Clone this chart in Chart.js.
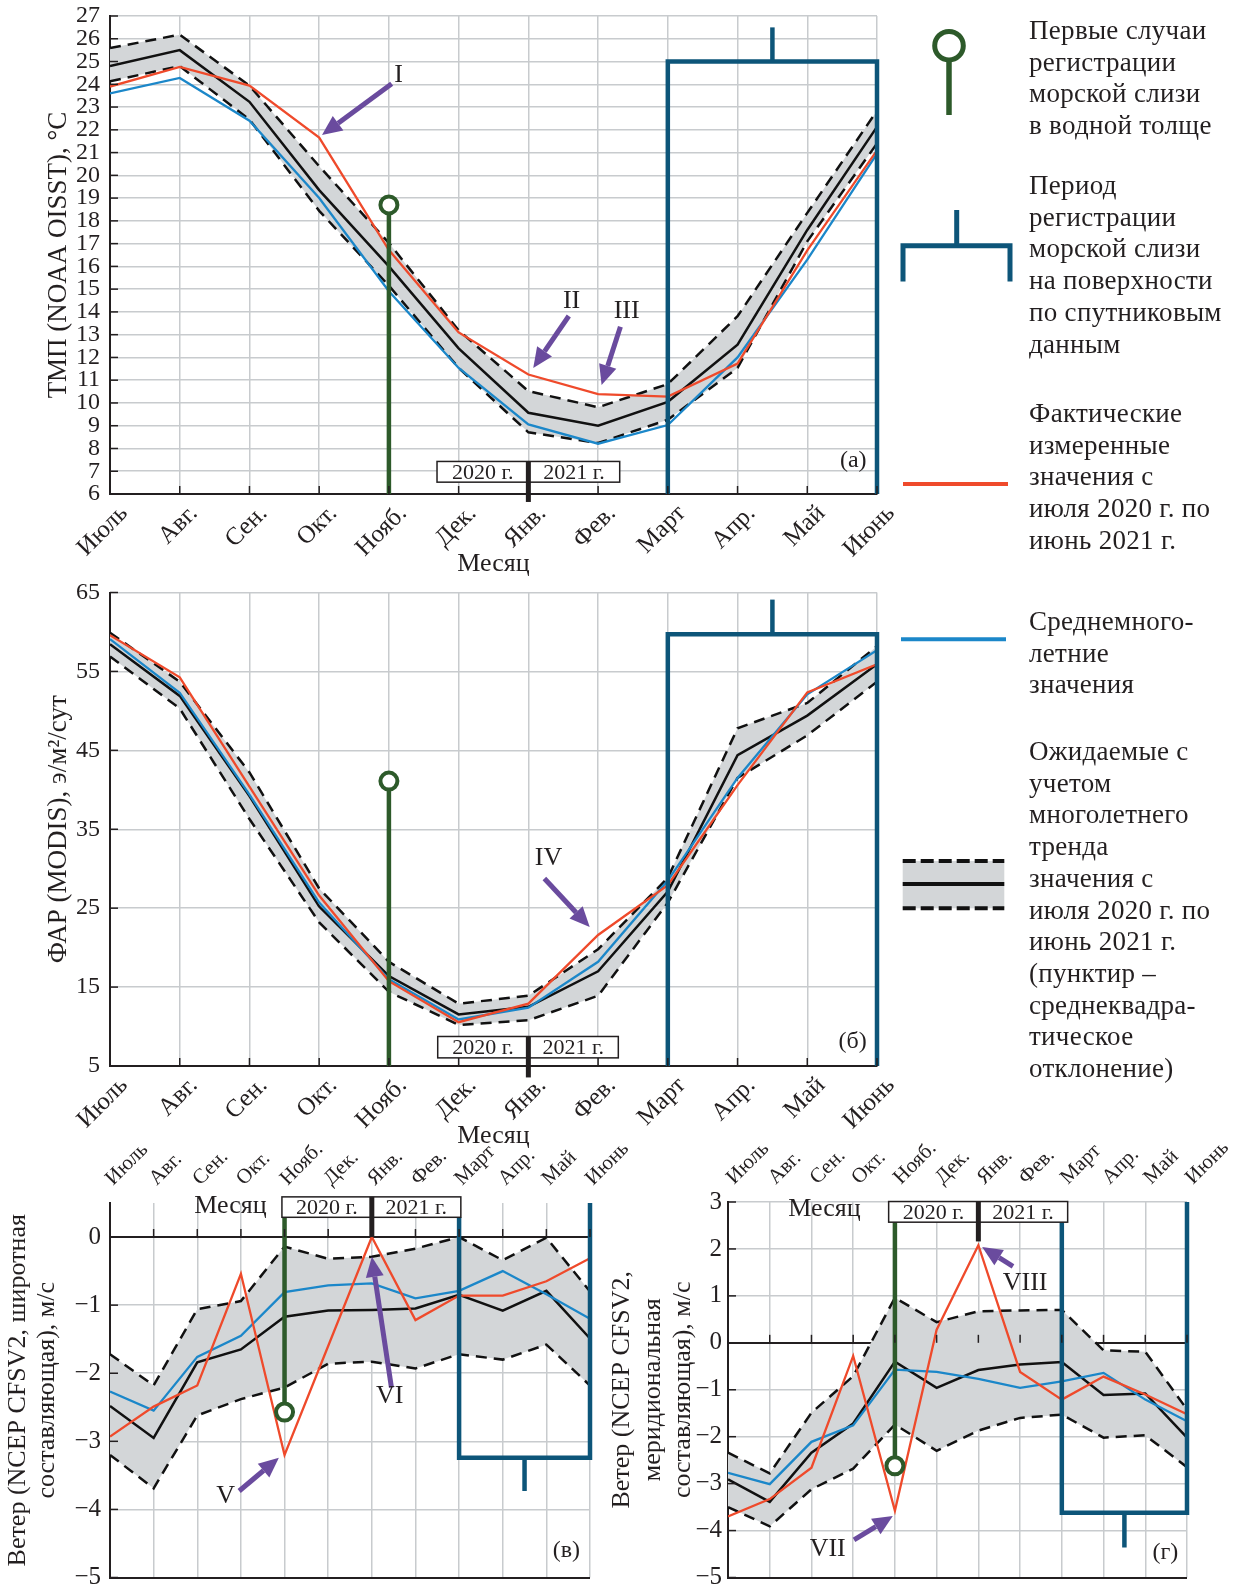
<!DOCTYPE html>
<html>
<head>
<meta charset="utf-8">
<script src="https://cdn.jsdelivr.net/npm/chart.js@4.4.1/dist/chart.umd.min.js"></script>
<style>
  body { margin: 0; background: #fff; width: 1238px; height: 1590px; position: relative; overflow: hidden; }
  canvas { position: absolute; }
  .leg { position: absolute; left: 1029px; font-family: "Liberation Serif", serif; font-size: 27px;
         letter-spacing: 0.3px; line-height: 31.7px; white-space: pre; color: #231f20; }
</style>
</head>
<body>
<canvas id="cA" width="912" height="580" style="left:0;top:0"></canvas>
<canvas id="cB" width="912" height="574" style="left:0;top:580px"></canvas>
<canvas id="cV" width="640" height="470" style="left:0;top:1120px"></canvas>
<canvas id="cG" width="638" height="470" style="left:600px;top:1120px"></canvas>
<canvas id="cL" width="160" height="960" style="left:880px;top:0"></canvas>

<div class="leg" style="top:15px">Первые случаи
регистрации
морской слизи
в водной толще</div>
<div class="leg" style="top:170px">Период
регистрации
морской слизи
на поверхности
по спутниковым
данным</div>
<div class="leg" style="top:398px">Фактические
измеренные
значения с
июля 2020 г. по
июнь 2021 г.</div>
<div class="leg" style="top:606px">Среднемного-
летние
значения</div>
<div class="leg" style="top:736px">Ожидаемые с
учетом
многолетнего
тренда
значения с
июля 2020 г. по
июнь 2021 г.
(пунктир –
среднеквадра-
тическое
отклонение)</div>

<script>
const months = ['Июль', 'Авг.', 'Сен.', 'Окт.', 'Нояб.', 'Дек.', 'Янв.', 'Фев.', 'Март', 'Апр.', 'Май', 'Июнь'];

// (а) ТМП, °C
const sstActual = [23.9, 24.76, 23.94, 21.66, 16.72, 13.1, 11.25, 10.39, 10.28, 11.73, 16.7, 21.1];
const sstClim   = [23.6, 24.28, 22.4, 19.0, 14.91, 11.54, 9.06, 8.21, 9.03, 12.0, 16.3, 20.95];
const sstTrend  = [24.8, 25.5, 23.23, 19.35, 16.0, 12.4, 9.57, 9.0, 10.05, 12.56, 17.6, 22.13];
const sstUpper  = [25.59, 26.18, 23.94, 20.4, 17.03, 13.19, 10.52, 9.81, 10.83, 13.81, 18.35, 22.84];
const sstLower  = [24.13, 24.8, 22.45, 18.44, 15.15, 11.54, 8.71, 8.24, 9.26, 11.54, 17.1, 21.4];

// (б) ФАР, э/м2/сут
const parActual = [59.6, 54.25, 40.4, 26.6, 15.75, 10.55, 12.9, 21.6, 27.9, 40.6, 52.35, 55.9];
const parClim   = [59.1, 52.3, 39.4, 25.7, 16.0, 10.9, 12.4, 18.2, 28.5, 41.5, 52.1, 57.7];
const parTrend  = [58.45, 51.9, 39.2, 25.2, 16.4, 11.54, 12.5, 17.0, 27.1, 44.4, 49.4, 55.9];
const parUpper  = [59.9, 53.7, 42.2, 27.5, 18.2, 12.9, 13.9, 19.8, 28.85, 47.8, 51.0, 58.2];
const parLower  = [56.9, 50.3, 36.3, 23.2, 14.4, 10.2, 10.8, 13.9, 25.7, 41.5, 46.9, 53.7];

// (в) ветер, широтная составляющая, м/с
const uActual = [-2.93, -2.49, -2.18, -0.54, -3.2, -1.6, 0.0, -1.22, -0.86, -0.86, -0.65, -0.31];
const uClim   = [-2.27, -2.55, -1.76, -1.45, -0.81, -0.71, -0.68, -0.9, -0.79, -0.5, -0.84, -1.2];
const uTrend  = [-2.48, -2.95, -1.84, -1.65, -1.17, -1.08, -1.07, -1.05, -0.85, -1.08, -0.79, -1.49];
const uUpper  = [-1.72, -2.18, -1.06, -0.94, -0.14, -0.32, -0.29, -0.17, 0.0, -0.34, -0.01, -0.8];
const uLower  = [-3.2, -3.69, -2.62, -2.38, -2.21, -1.86, -1.83, -1.93, -1.72, -1.8, -1.58, -2.18];

// (г) ветер, меридиональная составляющая, м/с
const vActual = [-3.7, -3.33, -2.66, -0.28, -3.58, 0.28, 2.08, -0.62, -1.21, -0.72, -1.1, -1.52];
const vClim   = [-2.77, -3.01, -2.11, -1.76, -0.57, -0.62, -0.77, -0.96, -0.82, -0.64, -1.21, -1.67];
const vTrend  = [-2.91, -3.39, -2.34, -1.72, -0.4, -0.96, -0.58, -0.46, -0.41, -1.11, -1.08, -2.02];
const vUpper  = [-2.34, -2.78, -1.49, -0.71, 0.96, 0.44, 0.67, 0.69, 0.7, -0.16, -0.19, -1.42];
const vLower  = [-3.5, -3.91, -3.12, -2.68, -1.74, -2.3, -1.87, -1.6, -1.53, -2.02, -1.97, -2.65];

// first slime in the water column (month index, stem from/to)
const slimeMonth = 4;
const slimeA = [6, 18.7], slimeB = [5, 41.1], slimeV = [0.29, -2.57], slimeG = [2.57, -2.62];
// surface slime period (months) and bracket levels: [left start, right start, bar, stem end]
const surfaceMonths = [8, 11];
const periodA = [6, 6, 25, 26.5], periodB = [5, 5, 59.7, 64.1];
const periodV = [0.29, 0.5, -3.24, -3.73], periodG = [2.57, 3, -3.62, -4.36];

const F = '"Liberation Serif", "Times New Roman", serif';
const INK = '#231f20', GRID = '#c8cbce', BAND = '#d3d6d8';
const RED = '#ef4a2b', BLUE = '#1b87c9', GREEN = '#2d5a2a', NAVY = '#0d5579', PURPLE = '#6a4b9e';
Chart.defaults.font.family = F;
Chart.defaults.color = INK;

const pts = arr => arr.map((y, x) => ({x, y}));
const minus = v => (v < 0 ? '\u2212' + Math.abs(v) : String(v));

function seriesSets(actual, clim, trend, upper, lower) {
  return [
    {data: pts(upper), borderColor: '#111', borderWidth: 2.5, borderDash: [11, 7], fill: '+1', backgroundColor: BAND, order: 4},
    {data: pts(lower), borderColor: '#111', borderWidth: 2.5, borderDash: [11, 7], order: 5},
    {data: pts(trend), borderColor: '#111', borderWidth: 2.5, order: 3},
    {data: pts(clim), borderColor: BLUE, borderWidth: 2.3, order: 2},
    {data: pts(actual), borderColor: RED, borderWidth: 2.3, order: 1},
  ];
}

function markerSets(stem, period) {
  const [m0, m1] = surfaceMonths;
  return [
    {data: [{x: slimeMonth, y: stem[0]}, {x: slimeMonth, y: stem[1]}], borderColor: GREEN, borderWidth: 4.5,
     pointRadius: [0, 8.5], pointBorderWidth: 4, pointBorderColor: GREEN, pointBackgroundColor: '#fff', order: 0, clip: false},
    {data: [{x: m0, y: period[0]}, {x: m0, y: period[2]}, {x: m1, y: period[2]}, {x: m1, y: period[1]}],
     borderColor: NAVY, borderWidth: 4.5, borderJoinStyle: 'miter', order: 0, clip: false},
    {data: [{x: (m0 + m1) / 2, y: period[2]}, {x: (m0 + m1) / 2, y: period[3]}],
     borderColor: NAVY, borderWidth: 4.5, order: 0, clip: false},
  ];
}

function arrow(ctx, x1, y1, x2, y2) {
  const a = Math.atan2(y2 - y1, x2 - x1), L = 20, W = 9;
  const bx = x2 - L * Math.cos(a), by = y2 - L * Math.sin(a);
  ctx.strokeStyle = ctx.fillStyle = PURPLE;
  ctx.lineWidth = 5;
  ctx.beginPath(); ctx.moveTo(x1, y1); ctx.lineTo(bx, by); ctx.stroke();
  ctx.beginPath();
  ctx.moveTo(x2, y2);
  ctx.lineTo(bx + W * Math.sin(a), by - W * Math.cos(a));
  ctx.lineTo(bx - W * Math.sin(a), by + W * Math.cos(a));
  ctx.closePath(); ctx.fill();
}

// inner ticks, year box, arrows and labels, placed in data units
const decor = {
  id: 'decor',
  afterDatasetsDraw(chart, args, o) {
    const {ctx, chartArea: ca} = chart;
    const sx = chart.scales.x, sy = chart.scales.y;
    const px = v => sx.getPixelForValue(v), py = v => sy.getPixelForValue(v);
    ctx.save();
    ctx.strokeStyle = INK; ctx.lineWidth = 1.5;
    sy.ticks.forEach(t => {
      const y = py(t.value);
      ctx.beginPath(); ctx.moveTo(ca.left, y); ctx.lineTo(ca.left + 8, y); ctx.stroke();
    });
    const xl = o.xTickAt == null ? ca.bottom : py(o.xTickAt);
    sx.ticks.forEach(t => {
      const x = px(t.value);
      ctx.beginPath(); ctx.moveTo(x, xl); ctx.lineTo(x, xl - 8); ctx.stroke();
    });

    const b = o.yearBox;
    if (b) {
      const x0 = px(b.x0), x1 = px(b.x1), y0 = py(b.top), y1 = py(b.bottom), xs = px(b.split);
      ctx.fillStyle = '#fff';
      ctx.fillRect(x0, y0, x1 - x0, y1 - y0);
      ctx.strokeStyle = INK; ctx.lineWidth = 1.5;
      ctx.strokeRect(x0, y0, x1 - x0, y1 - y0);
      ctx.lineWidth = 5;
      ctx.beginPath(); ctx.moveTo(xs, y0); ctx.lineTo(xs, py(b.splitTo)); ctx.stroke();
      ctx.fillStyle = INK;
      ctx.font = '22px ' + F;
      ctx.textAlign = 'center'; ctx.textBaseline = 'middle';
      ctx.fillText('2020 г.', (x0 + xs) / 2, (y0 + y1) / 2 + 1);
      ctx.fillText('2021 г.', (xs + x1) / 2, (y0 + y1) / 2 + 1);
    }
    (o.arrows || []).forEach(a => arrow(ctx, px(a[0]), py(a[1]), px(a[2]), py(a[3])));
    ctx.fillStyle = INK;
    ctx.textAlign = 'center'; ctx.textBaseline = 'middle';
    (o.texts || []).forEach(t => {
      ctx.font = (t[3] || 26) + 'px ' + F;
      ctx.fillText(t[0], px(t[1]), py(t[2]));
    });
    ctx.restore();
  }
};

function monthAxis(pos, size, fontSize, extra) {
  return Object.assign({
    type: 'linear', position: pos, min: 0, max: 11,
    ticks: {stepSize: 1, autoSkip: false, minRotation: 45, maxRotation: 45, font: {size: fontSize},
            callback: v => months[v]},
    grid: {color: GRID, lineWidth: 1.5, drawTicks: false},
    afterFit: s => { s.height = size; s.paddingLeft = 0; s.paddingRight = 0; }
  }, extra);
}

function panel(id, datasets, pad, scales, decorOpts) {
  return new Chart(document.getElementById(id), {
    type: 'line',
    data: {datasets},
    options: {
      responsive: false, animation: false, devicePixelRatio: 1, events: [],
      layout: {padding: pad},
      elements: {point: {radius: 0}, line: {tension: 0, fill: false}},
      plugins: {legend: {display: false}, tooltip: {enabled: false},
                filler: {drawTime: 'beforeDatasetsDraw'}, decor: decorOpts},
      scales
    },
    plugins: [decor]
  });
}

// (а)
const axA = monthAxis('bottom', 86, 25, {
  border: {color: INK, width: 2},
  title: {display: true, text: 'Месяц', font: {size: 26}, padding: {top: 0, bottom: 0}}
});
axA.ticks.padding = 5; axA.ticks.labelOffset = 14;
panel('cA', [...seriesSets(sstActual, sstClim, sstTrend, sstUpper, sstLower), ...markerSets(slimeA, periodA)],
  {left: 0, top: 16, right: 35, bottom: 0},
  {
    x: axA,
    y: {
      min: 6, max: 27,
      ticks: {stepSize: 1, autoSkip: false, padding: 10, font: {size: 24}},
      grid: {color: GRID, lineWidth: 1.5, drawTicks: false},
      border: {color: INK, width: 2},
      title: {display: true, text: 'ТМП (NOAA OISST), °C', font: {size: 27}, padding: {top: 43, bottom: 0}},
      afterFit: s => { s.width = 110; s.paddingTop = 0; s.paddingBottom = 0; }
    }
  },
  {
    yearBox: {x0: 4.69, x1: 7.31, top: 7.43, bottom: 6.52, split: 6, splitTo: 5.65},
    arrows: [[4.04, 24.02, 3.04, 21.77], [6.58, 13.82, 6.07, 11.54], [7.32, 13.35, 7.05, 10.79]],
    texts: [['I', 4.14, 24.41], ['II', 6.62, 14.45], ['III', 7.41, 14.05], ['(а)', 10.66, 7.46, 24]]
  });

// (б)
const axB = monthAxis('bottom', 88, 25, {
  border: {color: INK, width: 2},
  title: {display: true, text: 'Месяц', font: {size: 26}, padding: {top: 0, bottom: 2}}
});
axB.ticks.padding = 5; axB.ticks.labelOffset = 14;
panel('cB', [...seriesSets(parActual, parClim, parTrend, parUpper, parLower), ...markerSets(slimeB, periodB)],
  {left: 0, top: 11, right: 35, bottom: 0},
  {
    x: axB,
    y: {
      min: 5, max: 65,
      ticks: {stepSize: 10, autoSkip: false, padding: 10, font: {size: 24}},
      grid: {color: GRID, lineWidth: 1.5, drawTicks: false},
      border: {color: INK, width: 2},
      title: {display: true, text: 'ФАР (MODIS), э/м²/сут', font: {size: 27}, padding: {top: 43, bottom: 0}},
      afterFit: s => { s.width = 110; s.paddingTop = 0; s.paddingBottom = 0; }
    }
  },
  {
    yearBox: {x0: 4.70, x1: 7.29, top: 8.74, bottom: 6.03, split: 6, splitTo: 3.55},
    arrows: [[6.23, 28.76, 6.88, 22.6]],
    texts: [['IV', 6.29, 31.34], ['(б)', 10.65, 8.06, 24]]
  });

// wind panels: grid black on the zero line and the bottom edge
const windGrid = {
  color: c => (c.tick.value === 0 || c.tick.value === -5 ? INK : GRID),
  lineWidth: c => (c.tick.value === 0 || c.tick.value === -5 ? 2 : 1.5),
  drawTicks: false
};

// (в)
const axV = monthAxis('top', 83, 21, {border: {display: false}});
axV.ticks.padding = 12; axV.ticks.labelOffset = 17;
panel('cV', [...seriesSets(uActual, uClim, uTrend, uUpper, uLower), ...markerSets(slimeV, periodV)],
  {left: 0, top: 0, right: 50, bottom: 10},
  {
    x: axV,
    y: {
      min: -5, max: 0.5,
      ticks: {stepSize: 1, autoSkip: false, includeBounds: false, padding: 9, font: {size: 25}, callback: minus},
      grid: windGrid,
      border: {color: INK, width: 2},
      title: {display: true, text: ['Ветер (NCEP CFSV2, широтная', 'составляющая), м/с'],
              font: {size: 26, lineHeight: 1.127}, padding: {top: 3.7, bottom: 0}},
      afterFit: s => { s.width = 110; s.paddingTop = 0; s.paddingBottom = 0; }
    }
  },
  {
    xTickAt: 0,
    yearBox: {x0: 3.94, x1: 8.04, top: 0.59, bottom: 0.29, split: 6, splitTo: 0},
    arrows: [[2.96, -3.73, 3.87, -3.24], [6.45, -2.21, 6.0, -0.29]],
    texts: [['V', 2.65, -3.81], ['VI', 6.41, -2.33], ['(в)', 10.46, -4.61, 24], ['Месяц', 2.76, 0.45]]
  });

// (г)
const axG = monthAxis('top', 82, 21, {border: {display: false}});
axG.ticks.padding = 12; axG.ticks.labelOffset = 20;
panel('cG', [...seriesSets(vActual, vClim, vTrend, vUpper, vLower), ...markerSets(slimeG, periodG)],
  {left: 0, top: 0, right: 51, bottom: 12},
  {
    x: axG,
    y: {
      min: -5, max: 3,
      ticks: {stepSize: 1, autoSkip: false, padding: 6, font: {size: 25}, callback: minus},
      grid: windGrid,
      border: {color: INK, width: 2},
      title: {display: true, text: ['Ветер (NCEP CFSV2,', 'меридиональная', 'составляющая), м/с'],
              font: {size: 26, lineHeight: 1.173}, padding: {top: 7, bottom: 0}},
      afterFit: s => { s.width = 128; s.paddingTop = 0; s.paddingBottom = 0; }
    }
  },
  {
    xTickAt: 0,
    yearBox: {x0: 3.85, x1: 8.14, top: 3.01, bottom: 2.57, split: 6, splitTo: 2.16},
    arrows: [[3.02, -4.2, 3.95, -3.69], [6.83, 1.63, 6.09, 2.04]],
    texts: [['VII', 2.39, -4.4], ['VIII', 7.12, 1.28], ['(г)', 10.48, -4.47, 24], ['Месяц', 2.31, 2.84]]
  });

// legend symbols
const lg = document.getElementById('cL').getContext('2d');
lg.lineCap = 'butt';
lg.strokeStyle = GREEN; lg.lineWidth = 5;
lg.beginPath(); lg.arc(69, 45.7, 14.3, 0, Math.PI * 2); lg.stroke();
lg.lineWidth = 5.5;
lg.beginPath(); lg.moveTo(69, 60); lg.lineTo(69, 115); lg.stroke();

lg.strokeStyle = NAVY; lg.lineWidth = 5; lg.lineJoin = 'miter';
lg.beginPath(); lg.moveTo(23, 281.4); lg.lineTo(23, 245.7); lg.lineTo(130, 245.7); lg.lineTo(130, 281.4); lg.stroke();
lg.beginPath(); lg.moveTo(76.7, 245.7); lg.lineTo(76.7, 210); lg.stroke();

lg.strokeStyle = RED; lg.lineWidth = 4;
lg.beginPath(); lg.moveTo(23, 484); lg.lineTo(128, 484); lg.stroke();
lg.strokeStyle = BLUE;
lg.beginPath(); lg.moveTo(21, 639.3); lg.lineTo(126, 639.3); lg.stroke();

lg.fillStyle = BAND;
lg.fillRect(22.7, 861, 101.6, 47.3);
lg.strokeStyle = '#111'; lg.lineWidth = 4;
lg.setLineDash([13, 5]);
lg.beginPath(); lg.moveTo(22.7, 861); lg.lineTo(124.3, 861); lg.stroke();
lg.beginPath(); lg.moveTo(22.7, 908.3); lg.lineTo(124.3, 908.3); lg.stroke();
lg.setLineDash([]);
lg.beginPath(); lg.moveTo(22.7, 884); lg.lineTo(124.3, 884); lg.stroke();
</script>
</body>
</html>
